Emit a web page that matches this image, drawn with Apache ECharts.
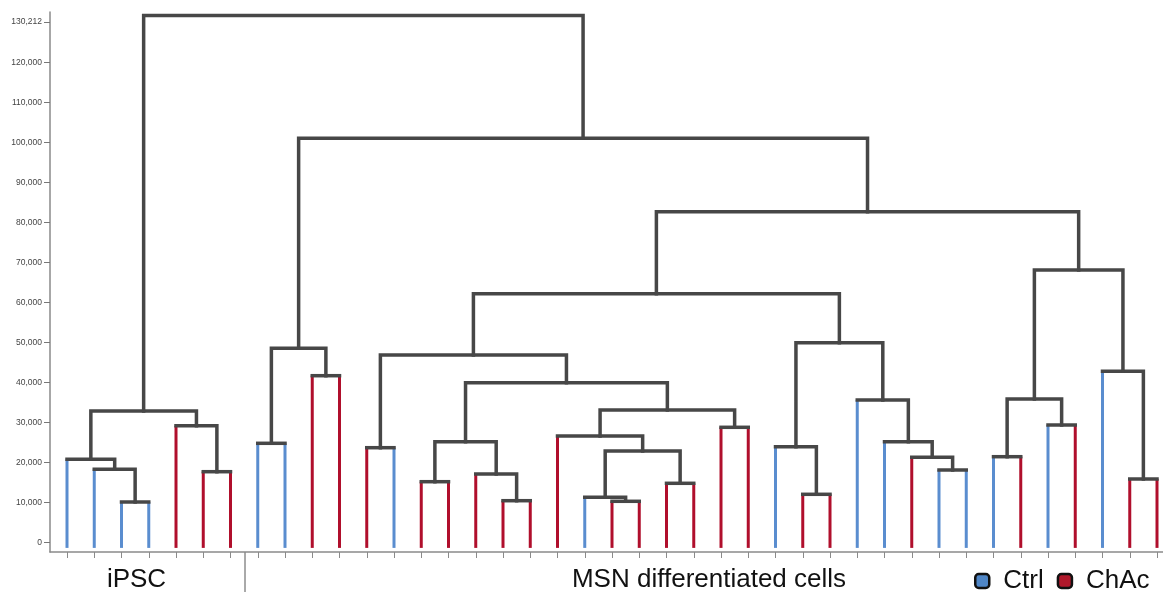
<!DOCTYPE html>
<html><head><meta charset="utf-8">
<script src="https://cdn.jsdelivr.net/npm/echarts@6/dist/echarts.min.js"></script>
<style>html,body{margin:0;padding:0;background:#fff}#c{width:1163px;height:592px}</style>
</head><body><div id="c"></div>
<script>
// ---- data ----
const leafTypes = ['Ctrl','Ctrl','Ctrl','Ctrl','ChAc','ChAc','ChAc',
  'Ctrl','Ctrl','ChAc','ChAc','ChAc','Ctrl','ChAc','ChAc','ChAc','ChAc','ChAc','ChAc',
  'Ctrl','ChAc','ChAc','ChAc','ChAc','ChAc','ChAc','Ctrl','ChAc','ChAc','Ctrl','Ctrl',
  'ChAc','Ctrl','Ctrl','Ctrl','ChAc','Ctrl','ChAc','Ctrl','ChAc','ChAc'];
// linkage: node N+k joins mergeLeft[k] and mergeRight[k] at mergeHeight[k]
const mergeLeft  = [2, 1, 0, 5, 4, 43, 7, 9, 47, 11, 13, 16, 15, 51, 20, 19, 22, 56, 18, 24, 59, 54, 50, 27, 26, 32, 31, 30, 29, 65, 63, 34, 36, 72, 39, 38, 74, 71, 49, 46];
const mergeRight = [3, 41, 42, 6, 44, 45, 8, 10, 48, 12, 14, 17, 52, 53, 21, 55, 23, 57, 58, 25, 60, 61, 62, 28, 64, 33, 66, 67, 68, 69, 70, 35, 37, 73, 40, 75, 76, 77, 78, 79];
const mergeHeight = [10175, 18350, 20850, 17750, 29250, 32925, 24850, 41750, 48600, 23750,
  15250, 10500, 17175, 25250, 10350, 11350, 14850, 22925, 26675, 28850, 33175, 40000, 46925,
  12100, 24000, 18175, 21350, 25250, 35675, 50000, 62250, 21500, 29425, 35925, 15925, 42850,
  68175, 82750, 101100, 131800];
const yTickValues = [0,10000,20000,30000,40000,50000,60000,70000,80000,90000,100000,110000,120000,130212];
const groupLabels = ['iPSC', 'MSN differentiated cells'];
const seriesNames = ['Ctrl', 'ChAc'];

// ---- derived ----
const FONT = "'Liberation Sans', Arial, sans-serif";
const colors = {Ctrl: '#5a8dcf', ChAc: '#b00f2c'};
const legendColors = {Ctrl: '#4f86c6', ChAc: '#b0182b'};
const leafBase = -1300;
const N = leafTypes.length;
const nodeX = [], nodeH = [], parentH = [];
for (let i = 0; i < N; i++) { nodeX[i] = i; nodeH[i] = null; }
mergeLeft.forEach((a, k) => {
  const b = mergeRight[k];
  nodeX[N + k] = (nodeX[a] + nodeX[b]) / 2;
  nodeH[N + k] = mergeHeight[k];
  parentH[a] = mergeHeight[k];
  parentH[b] = mergeHeight[k];
});
const linkData = mergeLeft.map((a, k) => {
  const b = mergeRight[k], h = mergeHeight[k];
  return [nodeX[a], a < N ? h : nodeH[a], nodeX[b], b < N ? h : nodeH[b], h];
});

function renderLink(params, api) {
  const x1 = api.value(0), h1 = api.value(1), x2 = api.value(2), h2 = api.value(3), h = api.value(4);
  const pts = [];
  const add = (x, y) => {
    const p = api.coord([x, y]);
    const l = pts[pts.length - 1];
    if (!l || Math.abs(l[0] - p[0]) > 0.01 || Math.abs(l[1] - p[1]) > 0.01) pts.push(p);
  };
  add(x1, h1); add(x1, h); add(x2, h); add(x2, h2);
  return {type: 'polyline', shape: {points: pts},
    style: {stroke: '#474747', lineWidth: 3.5, fill: null, lineCap: 'square', lineJoin: 'miter'}};
}
function leafRenderer(color) {
  return function (params, api) {
    const a = api.coord([api.value(0), leafBase]);
    const b = api.coord([api.value(0), api.value(1)]);
    return {type: 'line', shape: {x1: a[0], y1: a[1], x2: b[0], y2: b[1]},
      style: {stroke: color, lineWidth: 3}};
  };
}

const series = seriesNames.map(name => ({
  name: name, type: 'custom', z: 2,
  itemStyle: {color: legendColors[name]},
  renderItem: leafRenderer(colors[name]),
  data: leafTypes.map((t, i) => t === name ? [i, parentH[i]] : null).filter(d => d)
}));
series.push({name: 'links', type: 'custom', z: 3, renderItem: renderLink, data: linkData, silent: true});

const chart = echarts.init(document.getElementById('c'), null, {renderer: 'canvas'});
chart.setOption({
  animation: false,
  grid: {left: 50, right: 0, top: 12, bottom: 40},
  xAxis: {
    type: 'value', min: -0.624, max: 40.22,
    splitLine: {show: false},
    axisLine: {show: true, onZero: false, lineStyle: {color: '#8a8a8a', width: 1.5}},
    axisTick: {show: true, customValues: leafTypes.map((t, i) => i), length: 6, lineStyle: {color: '#8a8a8a'}},
    axisLabel: {show: false}
  },
  yAxis: {
    type: 'value', min: -2325, max: 132675,
    splitLine: {show: false},
    axisLine: {show: true, onZero: false, lineStyle: {color: '#8a8a8a', width: 1.5}},
    axisTick: {show: true, customValues: yTickValues, length: 6, lineStyle: {color: '#777'}},
    axisLabel: {customValues: yTickValues, fontSize: 8.5, color: '#444', fontFamily: FONT, margin: 8,
      formatter: v => Number(v).toLocaleString('en-US')}
  },
  legend: {
    left: 969, top: 563, itemWidth: 14, itemHeight: 14, itemGap: 13, icon: 'roundRect',
    selectedMode: false,
    textStyle: {fontSize: 26, fontFamily: FONT, color: '#111', padding: [0, 0, 0, 9]},
    data: seriesNames.map(n => ({name: n, itemStyle: {color: legendColors[n], borderColor: '#111', borderWidth: 2.5}}))
  },
  graphic: [
    {type: 'line', shape: {x1: 245, y1: 552, x2: 245, y2: 592}, style: {stroke: '#555', lineWidth: 1}},
    {type: 'text', x: 136.5, y: 580, style: {text: groupLabels[0], font: '26px ' + FONT, fill: '#111', align: 'center', verticalAlign: 'middle'}},
    {type: 'text', x: 709, y: 580, style: {text: groupLabels[1], font: '26px ' + FONT, fill: '#111', align: 'center', verticalAlign: 'middle'}}
  ],
  series: series
});
</script></body></html>
